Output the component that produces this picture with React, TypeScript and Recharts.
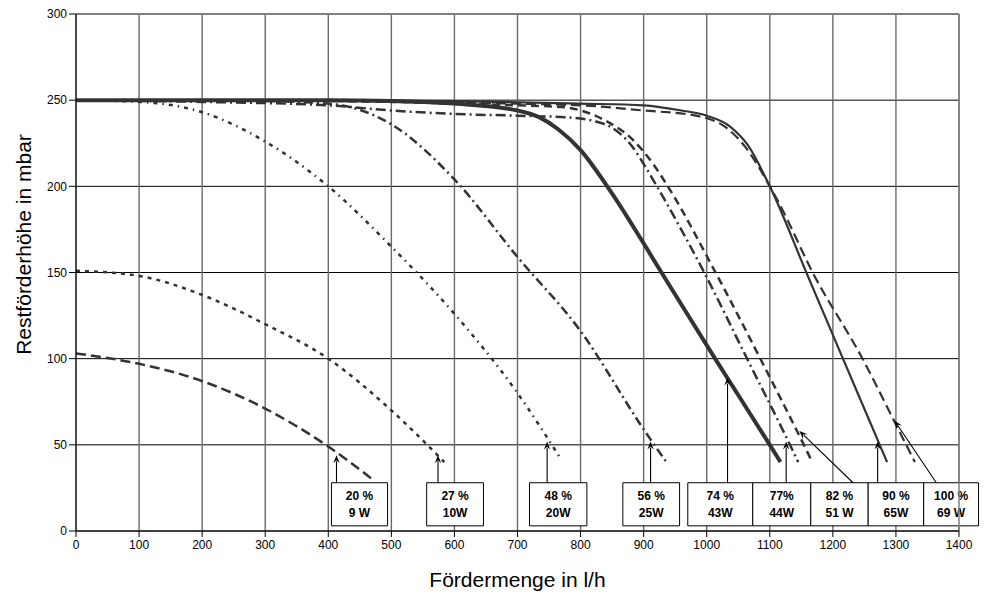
import React from 'react';
import { LineChart, Line, XAxis, YAxis, CartesianGrid, ReferenceArea, ReferenceLine } from 'recharts';

const xTicks = [0, 100, 200, 300, 400, 500, 600, 700, 800, 900, 1000, 1100, 1200, 1300, 1400];
const yTicks = [0, 50, 100, 150, 200, 250, 300];

// [Fördermenge l/h, Restförderhöhe mbar]
const p20 = [[0, 103], [100, 97], [200, 87], [300, 71], [400, 49], [470, 30]];
const p27 = [[0, 151], [100, 148], [200, 137], [300, 120], [400, 100], [500, 70], [584, 40]];
const p48 = [[0, 250], [100, 249], [200, 243], [300, 226], [400, 200], [500, 165], [600, 126], [700, 80], [770, 41]];
const p56 = [[0, 250], [200, 250], [300, 249.5], [400, 248], [500, 236], [600, 204], [700, 159], [800, 116], [900, 59], [936, 40]];
const p74 = [[0, 250], [400, 250], [500, 249.5], [600, 248], [700, 244], [735, 240], [765, 233], [800, 221], [846, 198], [930, 149], [1015, 99], [1100, 50], [1117, 40]];
const p77 = [[0, 250], [200, 249], [400, 247], [500, 244], [600, 242], [700, 241], [780, 240], [820, 238], [850, 234], [880, 224], [905, 210], [921, 200], [996, 150], [1064, 100], [1132, 50], [1145, 40]];
const p82 = [[0, 250], [300, 250], [500, 249], [600, 248], [700, 247], [770, 246], [840, 238], [880, 228], [915, 213], [940, 199], [1014, 150], [1085, 100], [1154, 50], [1166, 41]];
const p90 = [[0, 250], [400, 250], [600, 249.5], [800, 248], [900, 247], [960, 244], [1000, 241], [1036, 235], [1065, 224], [1100, 200], [1158, 150], [1216, 100], [1272, 52], [1286, 40]];
const p100 = [[0, 250], [400, 249.5], [600, 248.5], [800, 247], [900, 244], [983, 241], [1031, 234], [1063, 222], [1100, 200], [1115, 190], [1168, 150], [1247, 100], [1297, 64], [1330, 40]];

const labelTop = ['20 %', '27 %', '48 %', '56 %', '74 %', '77%', '82 %', '90 %', '100 %'];
const labelBottom = ['9 W', '10W', '20W', '25W', '43W', '44W', '51 W', '65W', '69 W'];
// box extents along Fördermenge axis
const boxFrom = [405, 556, 719, 867, 970, 1073, 1165, 1256, 1344];
const boxTo = [494, 646, 810, 957, 1073, 1165, 1256, 1344, 1431];
const boxLow = 3;
const boxHigh = 28;
// arrows: base on box top, tip on the curve
const arrowBaseX = [413, 574, 747, 911, 1033, 1126, 1232, 1271, 1364];
const arrowTipX = [413, 574, 747, 911, 1033, 1126, 1147, 1271, 1298];
const arrowTipY = [44, 44, 52, 52, 89, 52, 58, 52, 64];

const toRows = (pts: number[][]) => pts.map(([x, y]) => ({ x, y }));

const FONT = '"Liberation Sans", Arial, sans-serif';
const INK = '#333333';

const series = [
  { key: 's20', pts: p20, width: 2.5, dash: '10 5' },
  { key: 's27', pts: p27, width: 2.5, dash: '4 5' },
  { key: 's48', pts: p48, width: 2.5, dash: '4 5 1.5 5' },
  { key: 's56', pts: p56, width: 2.5, dash: '9 4 2 4' },
  { key: 's100', pts: p100, width: 2.2, dash: '10 5' },
  { key: 's82', pts: p82, width: 2.5, dash: '8 5' },
  { key: 's77', pts: p77, width: 2.5, dash: '10 4 2 4' },
  { key: 's90', pts: p90, width: 2.2, dash: undefined },
  { key: 's74', pts: p74, width: 4, dash: undefined },
];

const arrowShape = (props: any) => {
  const { x1, y1, x2, y2 } = props;
  const dx = x2 - x1;
  const dy = y2 - y1;
  const len = Math.sqrt(dx * dx + dy * dy) || 1;
  const ux = dx / len;
  const uy = dy / len;
  const hl = 8;
  const hw = 3.2;
  const bx = x2 - ux * hl;
  const by = y2 - uy * hl;
  const px = -uy * hw;
  const py = ux * hw;
  return (
    <g>
      <line x1={x1} y1={y1} x2={bx + ux * 2} y2={by + uy * 2} stroke="#000" strokeWidth={1.1} />
      <path d={`M${x2},${y2} L${bx + px},${by + py} L${x2 - ux * 5},${y2 - uy * 5} L${bx - px},${by - py} Z`} fill="#000" />
    </g>
  );
};

const boxLabel = (i: number) => (props: any) => {
  const vb = props.viewBox || {};
  const cx = vb.x + vb.width / 2;
  const cy = vb.y + vb.height / 2;
  return (
    <g>
      <text x={cx} y={cy - 4} textAnchor="middle" fontSize={12} fontWeight="bold" fill="#000" fontFamily={FONT}>{labelTop[i]}</text>
      <text x={cx} y={cy + 12.5} textAnchor="middle" fontSize={12} fontWeight="bold" fill="#000" fontFamily={FONT}>{labelBottom[i]}</text>
    </g>
  );
};

const yTitle = (props: any) => {
  const vb = props.viewBox || {};
  const cx = 23;
  const cy = vb.y + vb.height / 2 - 28;
  return (
    <text x={cx} y={cy} transform={`rotate(-90, ${cx}, ${cy})`} textAnchor="middle" dominantBaseline="central" fontSize={21} fill="#000" fontFamily={FONT}>
      Restförderhöhe in mbar
    </text>
  );
};

export default function App() {
  return (
    <div style={{ position: 'absolute', left: 0, top: 0, background: '#fff' }}>
      <LineChart width={987} height={597} margin={{ top: 14, right: 28, bottom: 0, left: 0 }} style={{ fontFamily: FONT }}>
        <CartesianGrid vertical={false} stroke="#000" strokeWidth={1} />
        <CartesianGrid horizontal={false} stroke="#6a6a6a" strokeWidth={1.4} />
        <ReferenceLine y={300} stroke="#808080" strokeWidth={1.5} />
        <ReferenceLine x={1400} stroke="#808080" strokeWidth={1.5} />
        <XAxis
          type="number"
          dataKey="x"
          domain={[0, 1400]}
          ticks={xTicks}
          allowDataOverflow
          height={66}
          stroke="#000"
          tick={{ fontSize: 12, fill: '#000', fontFamily: FONT }}
          tickSize={6}
          tickMargin={3}
          label={{ value: 'Fördermenge in l/h', position: 'insideBottom', offset: 10, fontSize: 21, fill: '#000', fontFamily: FONT }}
        />
        <YAxis
          type="number"
          domain={[0, 300]}
          ticks={yTicks}
          allowDataOverflow
          width={76}
          stroke="#000"
          tick={{ fontSize: 12, fill: '#000', fontFamily: FONT }}
          tickSize={7}
          tickMargin={2}
          label={{ content: yTitle }}
        />
        {series.map((s) => (
          <Line
            key={s.key}
            data={toRows(s.pts)}
            dataKey="y"
            type="monotone"
            stroke={INK}
            strokeWidth={s.width}
            strokeDasharray={s.dash}
            dot={false}
            activeDot={false}
            isAnimationActive={false}
          />
        ))}
        {arrowTipX.map((tx, i) => (
          <ReferenceLine
            key={'a' + i}
            segment={[{ x: arrowBaseX[i], y: boxHigh }, { x: tx, y: arrowTipY[i] }]}
            ifOverflow="visible"
            shape={arrowShape}
          />
        ))}
        {labelTop.map((_, i) => (
          <ReferenceArea
            key={'b' + i}
            x1={boxFrom[i]}
            x2={boxTo[i]}
            y1={boxLow}
            y2={boxHigh}
            ifOverflow="visible"
            fill="#fff"
            fillOpacity={1}
            stroke="#000"
            strokeWidth={1}
            label={boxLabel(i)}
          />
        ))}
      </LineChart>
    </div>
  );
}
